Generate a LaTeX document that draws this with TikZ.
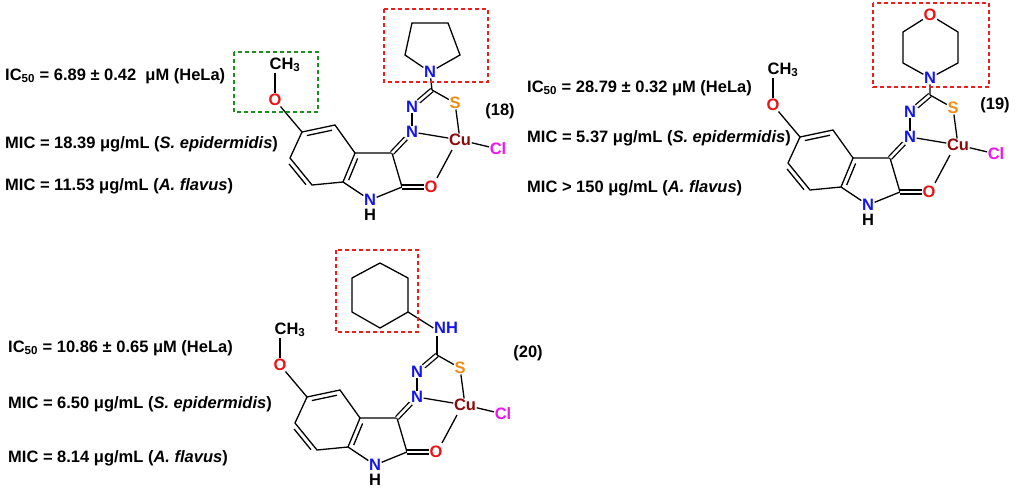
\documentclass[tikz,border=0pt]{standalone}
\usepackage{fontspec}
\setmainfont{Liberation Sans}
\usetikzlibrary{calc}
\definecolor{oxy}{RGB}{235,20,20}
\definecolor{nit}{RGB}{20,20,235}
\definecolor{sul}{RGB}{240,140,20}
\definecolor{cop}{RGB}{140,10,10}
\definecolor{chl}{RGB}{240,20,240}
\definecolor{boxred}{RGB}{235,30,30}
\definecolor{boxgreen}{RGB}{30,140,30}
\tikzset{
  atom/.style={inner sep=0.5pt,font=\bfseries\fontsize{16.5}{16.5}\selectfont},
  bond/.style={line width=1.3pt},
  dbl/.style={line width=1.3pt,double,double distance=2.6pt},
  hilite/.style={line width=1.6pt,dash pattern=on 4pt off 3pt},
  info/.style={anchor=west,inner sep=0pt,font=\bfseries\fontsize{16.5}{17}\selectfont},
}
% inner line of an aromatic bond, on the left side of #1->#2
\newcommand{\arobond}[2]{\draw[bond,shorten <=4pt,shorten >=4pt]
  ($(#1)!4.5pt!90:(#2)$) -- ($(#2)!4.5pt!-90:(#1)$);}
% methoxy isatin hydrazone copper core
\newcommand{\isatincore}{%
  \coordinate (C5) at (302,132); \coordinate (C4) at (335,125);
  \coordinate (C3a) at (355,153); \coordinate (C7a) at (343,182);
  \coordinate (C7) at (312,185); \coordinate (C6) at (290,158);
  \coordinate (C3) at (392,153); \coordinate (C2) at (402,187);
  \coordinate (Ct) at (432,90);
  \node[atom] (CH) at (285,65) {CH\textsubscript{3}};
  \node[atom,text=oxy] (Om) at (275,100) {O};
  \node[atom,text=nit] (N1) at (370,200) {N};
  \node[atom] (H1) at (370,215) {H};
  \node[atom,text=oxy] (Oc) at (431,187) {O};
  \node[atom,text=nit] (Na) at (412,132) {N};
  \node[atom,text=nit] (Nb) at (412,107) {N};
  \node[atom,text=sul] (S) at (455,103) {S};
  \node[atom,text=cop] (Cu) at (460,140) {Cu};
  \node[atom,text=chl] (Cl) at (498,149) {Cl};
  \draw[bond] (275,73) -- (Om);
  \draw[bond] (Om) -- (C5);
  \draw[bond] (C5) -- (C4) -- (C3a) -- (C7a) -- (C7) -- (C6) -- cycle;
  \arobond{C4}{C5} \arobond{C3a}{C7a} \arobond{C7}{C6}
  \draw[bond] (C3a) -- (C3) -- (C2) -- (N1) -- (C7a);
  \draw[dbl] (C3) -- (Na); \draw[dbl] (C2) -- (Oc);
  \draw[bond] (Na) -- (Nb); \draw[dbl] (Nb) -- (Ct);
  \draw[bond] (Ct) -- (S); \draw[bond] (S) -- (Cu);
  \draw[bond] (Na) -- (Cu); \draw[bond] (Cu) -- (Cl);
  \draw[bond] (452,150) -- (437,178);
}
\begin{document}
\begin{tikzpicture}[x=1pt,y=-1pt]
\useasboundingbox (0,0) rectangle (1016,489);
% (18)
\begin{scope}
  \isatincore
  \node[atom,text=nit] (Np) at (430,72) {N};
  \coordinate (P1) at (405,55); \coordinate (P2) at (412,23);
  \coordinate (P3) at (448,23); \coordinate (P4) at (460,55);
  \draw[bond] (Np) -- (P1) -- (P2) -- (P3) -- (P4) -- (Np) -- (Ct);
  \draw[hilite,boxred] (384,9) rectangle (488,82);
  \draw[hilite,boxgreen] (234,52) rectangle (318,112);
  \node[atom] (lab18) at (500,111) {(18)};
\end{scope}
\node[info] (ic18) at (5,76) {IC\textsubscript{50} = 6.89 ± 0.42 \ μM (HeLa)};
\node[info] (se18) at (5,144) {MIC = 18.39 μg/mL (\textit{S. epidermidis})};
\node[info] (af18) at (5,186) {MIC = 11.53 μg/mL (\textit{A. flavus})};
% (19)
\begin{scope}[shift={(498,5)}]
  \isatincore
  \node[atom,text=nit] (Nm) at (432,73) {N};
  \node[atom,text=oxy] (Om2) at (432,10) {O};
  \coordinate (M1) at (405,27); \coordinate (M2) at (405,58);
  \coordinate (M3) at (460,27); \coordinate (M4) at (460,58);
  \draw[bond] (Nm) -- (M2) -- (M1) -- (Om2) -- (M3) -- (M4) -- (Nm) -- (Ct);
  \draw[hilite,boxred] (375,-2) rectangle (491,82);
  \node[atom] (lab19) at (497,100) {(19)};
\end{scope}
\node[info] (ic19) at (527,88) {IC\textsubscript{50} = 28.79 ± 0.32 μM (HeLa)};
\node[info] (se19) at (527,138) {MIC = 5.37 μg/mL (\textit{S. epidermidis})};
\node[info] (af19) at (527,188) {MIC > 150 μg/mL (\textit{A. flavus})};
% (20)
\begin{scope}[shift={(5,265)}]
  \isatincore
  \node[atom,text=nit] (NH) at (441,63) {NH};
  \coordinate (X1) at (375,-2); \coordinate (X2) at (403,13);
  \coordinate (X3) at (403,47); \coordinate (X4) at (375,63);
  \coordinate (X5) at (347,47); \coordinate (X6) at (347,13);
  \draw[bond] (X1) -- (X2) -- (X3) -- (X4) -- (X5) -- (X6) -- cycle;
  \draw[bond] (X3) -- (NH.west);
  \draw[bond] (Ct) -- (432,71);
  \draw[hilite,boxred] (331,-15) rectangle (413,67);
  \node[atom] (lab20) at (523,88) {(20)};
\end{scope}
\node[info] (ic20) at (8,348) {IC\textsubscript{50} = 10.86 ± 0.65 μM (HeLa)};
\node[info] (se20) at (8,404) {MIC = 6.50 μg/mL (\textit{S. epidermidis})};
\node[info] (af20) at (8,458) {MIC = 8.14 μg/mL (\textit{A. flavus})};
\end{tikzpicture}
\end{document}
